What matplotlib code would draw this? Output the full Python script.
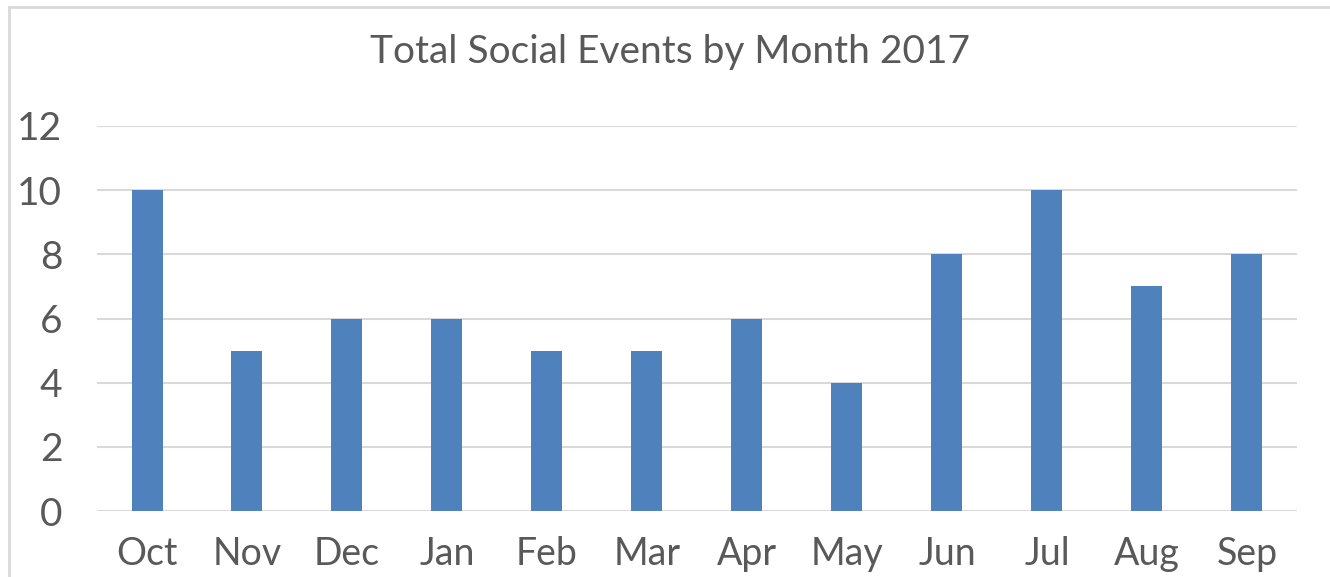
import matplotlib
matplotlib.use("Agg")
import matplotlib.pyplot as plt
from matplotlib.patches import Rectangle

months = ["Oct", "Nov", "Dec", "Jan", "Feb", "Mar", "Apr", "May", "Jun", "Jul", "Aug", "Sep"]
events = [10, 5, 6, 6, 5, 5, 6, 4, 8, 10, 7, 8]
yticks = [0, 2, 4, 6, 8, 10, 12]

plt.rcParams['font.family'] = ['Lato', 'DejaVu Sans']
textColor = '#595959'

fig = plt.figure(figsize=(13.3, 5.77), dpi=100)
# chart border, cut off at right and bottom like the screenshot
fig.patches.append(Rectangle((9 / 1330, -0.1), 1.1, 1 - 7 / 577 + 0.1,
                             transform=fig.transFigure, fill=False,
                             edgecolor='#d9d9d9', linewidth=2))

ax = fig.add_axes([97 / 1330, 1 - 511 / 577, 1200 / 1330, 385 / 577])
ax.bar(range(len(months)), events, width=0.31, color='#4f81bd', zorder=3)
ax.set_xlim(-0.5, len(months) - 0.5)
ax.set_ylim(0, 12)
ax.set_yticks(yticks)
ax.set_xticks(range(len(months)))
ax.set_xticklabels(months)
ax.grid(axis='y', color='#d9d9d9', linewidth=1.5, zorder=0)
for s in ax.spines.values():
    s.set_visible(False)
ax.tick_params(axis='both', length=0, labelsize=28, labelcolor=textColor)
ax.tick_params(axis='y', pad=25)
ax.tick_params(axis='x', labelsize=27, pad=18)

fig.text(670 / 1330, 1 - 52 / 577, "Total Social Events by Month 2017",
         ha='center', va='center', fontsize=28, color=textColor)

fig.savefig("out.png", dpi=100)
